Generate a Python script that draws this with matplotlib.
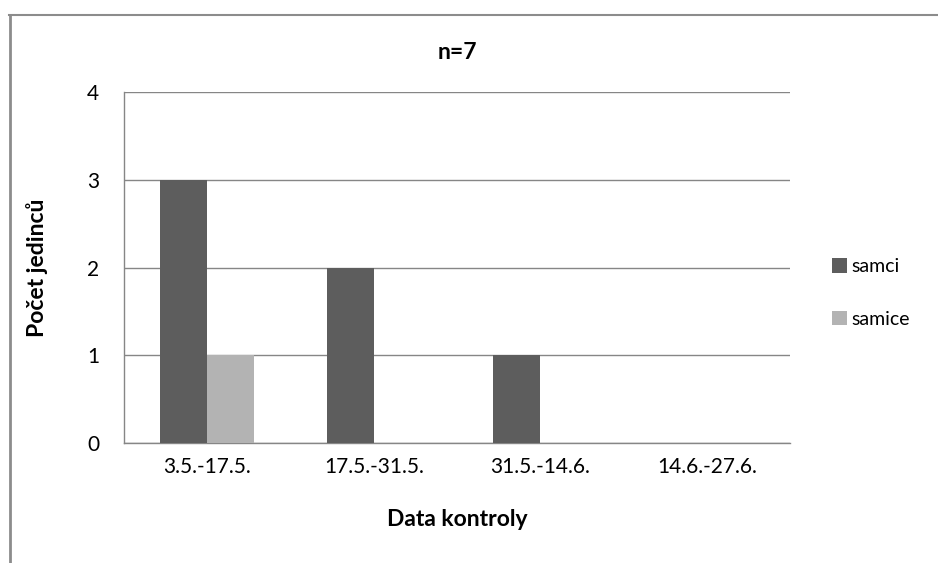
import matplotlib.pyplot as plt
import numpy as np
from matplotlib.lines import Line2D

plt.rcParams['font.family'] = ['Lato', 'DejaVu Sans']

categories = ["3.5.-17.5.", "17.5.-31.5.", "31.5.-14.6.", "14.6.-27.6."]
samci = [3, 2, 1, 0]
samice = [1, 0, 0, 0]

fig = plt.figure(figsize=(9.38, 5.63), dpi=100)
ax = fig.add_axes([124 / 938, 1 - 443 / 563, 666 / 938, 351 / 563])

x = np.arange(len(categories))
w = 0.283
ax.bar(x - w / 2, samci, w, color="#5d5d5d", label="samci", zorder=3)
ax.bar(x + w / 2, samice, w, color="#b3b3b3", label="samice", zorder=3)

ax.set_xlim(-0.5, 3.5)
ax.set_ylim(0, 4)
ax.set_yticks([0, 1, 2, 3, 4])
ax.set_xticks(x)
ax.set_xticklabels(categories)
ax.yaxis.grid(True, color="#868686", linewidth=1, zorder=0)
ax.tick_params(length=0, labelsize=15, pad=10)
ax.tick_params(axis="y", pad=18)

for s in ["top", "right"]:
    ax.spines[s].set_visible(False)
for s in ["left", "bottom"]:
    ax.spines[s].set_color("#868686")
    ax.spines[s].set_linewidth(1)

ax.set_title("n=7", fontsize=16.5, fontweight="bold", pad=24)
ax.set_xlabel("Data kontroly", fontsize=16.5, fontweight="bold", labelpad=23)
ax.set_ylabel("Počet jedinců", fontsize=16.5, fontweight="bold", labelpad=28)

ax.legend(loc="center left", bbox_to_anchor=(814 / 938, 1 - 293 / 563),
          bbox_transform=fig.transFigure, frameon=False, fontsize=14,
          handlelength=0.8, handleheight=0.8, handletextpad=0.2,
          labelspacing=1.8)

# outer chart frame lines
fig.add_artist(Line2D([9 / 938, 1], [1 - 15 / 563] * 2, color="#8c8c8c", lw=1.5))
fig.add_artist(Line2D([10 / 938] * 2, [0, 1 - 15 / 563], color="#8c8c8c", lw=2))

fig.savefig("out.png", dpi=100)
